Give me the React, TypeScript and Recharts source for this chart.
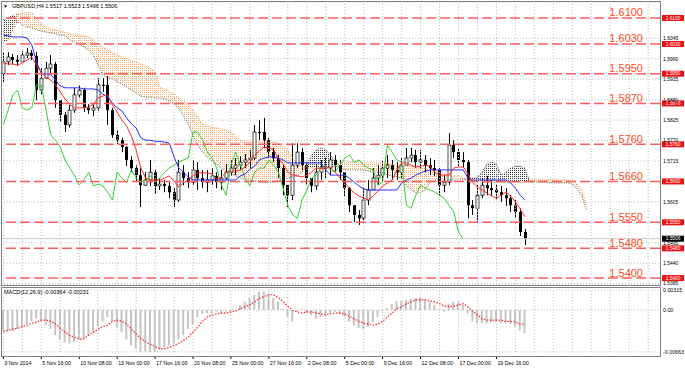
import React from "react";
import {
  ComposedChart,
  Bar,
  Line,
  Area,
  XAxis,
  YAxis,
  CartesianGrid,
  ReferenceLine,
} from "recharts";

const FONT = '"Liberation Sans", Arial, sans-serif';

// x axis labels (one label every 8 bars of 8h)
const dateLabels = [
  "3 Nov 2014", "5 Nov 16:00", "10 Nov 08:00", "13 Nov 00:00", "17 Nov 16:00",
  "20 Nov 08:00", "25 Nov 00:00", "27 Nov 16:00", "2 Dec 08:00", "5 Dec 00:00",
  "9 Dec 16:00", "12 Dec 08:00", "17 Dec 00:00", "19 Dec 16:00",
];
const labelSlots = [0, 8, 16, 24, 32, 40, 48, 56, 64, 72, 80, 88, 96, 104];
const gridSlots = [
  0, 4, 8, 12, 16, 20, 24, 28, 32, 36, 40, 44, 48, 52, 56, 60, 64, 68,
  72, 76, 80, 84, 88, 92, 96, 100, 104, 108, 112, 116, 120, 124, 128, 132, 136,
];
const SLOTS = 139;
const CHIKOU_SHIFT = 13;

// right scale ticks (those sitting under a level tag are left out)
const priceTicks = [
  1.6045, 1.599, 1.5935, 1.588, 1.5825, 1.577, 1.5715, 1.5605,
  1.5495, 1.544, 1.5385,
];
const levels = [1.61, 1.603, 1.595, 1.587, 1.576, 1.566, 1.555, 1.548, 1.54];
const macdTicks = [0.00315, 0, -0.00663];
const lastBar = [1.5517, 1.5523, 1.5496, 1.5506];
const firstOpen = 1.595;

const closes = [
  1.5982, 1.5995, 1.5987, 1.5982, 1.6, 1.6006, 1.5998, 1.5906, 1.5938, 1.5965,
  1.5976, 1.5879, 1.5839, 1.5812, 1.5852, 1.5893, 1.5906, 1.5858, 1.5852, 1.5858,
  1.592, 1.592, 1.5852, 1.5785, 1.5771, 1.5753, 1.5718, 1.5696, 1.5677, 1.565,
  1.5664, 1.5685, 1.5648, 1.5653, 1.5648, 1.5631, 1.561, 1.5685, 1.5669, 1.5658,
  1.5691, 1.5669, 1.5658, 1.5664, 1.5675, 1.5658, 1.5669, 1.5685, 1.5696, 1.5704,
  1.5712, 1.5718, 1.5723, 1.5793, 1.5793, 1.5771, 1.5739, 1.5723, 1.5696, 1.565,
  1.5623, 1.5704, 1.5739, 1.5704, 1.5669, 1.5648, 1.5685, 1.5696, 1.5696, 1.5718,
  1.5704, 1.5685, 1.5642, 1.5596, 1.557, 1.5561, 1.561, 1.5637, 1.5669, 1.5677,
  1.5696, 1.5704, 1.5691, 1.5685, 1.5704, 1.5723, 1.5731, 1.5712, 1.5718, 1.5704,
  1.5696, 1.5691, 1.565, 1.5658, 1.5758, 1.5739, 1.5718, 1.5712, 1.5596, 1.5588,
  1.5623, 1.565, 1.5642, 1.5637, 1.5631, 1.5623, 1.5615, 1.5596, 1.5578, 1.5524,
  1.5506,
];
const highs = [
  1.6008, 1.6008, 1.6003, 1.6, 1.6011, 1.6019, 1.6014, 1.6008, 1.5965, 1.5982,
  1.6, 1.5982, 1.5879, 1.5847, 1.5866, 1.5912, 1.592, 1.5912, 1.5868, 1.5868,
  1.5938, 1.5938, 1.5944, 1.5858, 1.5798, 1.5777, 1.5755, 1.5728, 1.5704, 1.5696,
  1.5685, 1.5718, 1.5691, 1.5669, 1.5664, 1.5658, 1.5642, 1.5718, 1.5704, 1.5685,
  1.5718, 1.5712, 1.5691, 1.5691, 1.5696, 1.5685, 1.5691, 1.5707, 1.5718, 1.5723,
  1.5728, 1.5734, 1.5745, 1.5812, 1.5825, 1.5831, 1.5777, 1.575, 1.5731, 1.5704,
  1.565, 1.5763, 1.5763, 1.575, 1.5712, 1.5669, 1.5704, 1.5718, 1.5723, 1.5739,
  1.5731, 1.5718, 1.5685, 1.5645, 1.5596, 1.5583, 1.5642, 1.5664, 1.5696, 1.5704,
  1.5718, 1.5731, 1.5718, 1.5712, 1.5723, 1.575, 1.575, 1.5745, 1.5745, 1.5731,
  1.5723, 1.5718, 1.5696, 1.5677, 1.579, 1.5771, 1.575, 1.5739, 1.5718, 1.561,
  1.565, 1.5669, 1.5675, 1.5664, 1.5653, 1.5648, 1.5642, 1.5623, 1.561, 1.5588,
  1.5532,
];
const lows = [
  1.5928, 1.5973, 1.5976, 1.5971, 1.5982, 1.5992, 1.5987, 1.5879, 1.5893, 1.5938,
  1.5949, 1.5858, 1.582, 1.5793, 1.5805, 1.5845, 1.5885, 1.5847, 1.5842, 1.5836,
  1.585, 1.5901, 1.5812, 1.5777, 1.5761, 1.5739, 1.5701, 1.5685, 1.5658, 1.5591,
  1.5648, 1.5648, 1.5626, 1.5637, 1.5631, 1.5615, 1.5591, 1.5605, 1.565, 1.5642,
  1.565, 1.5637, 1.5642, 1.5631, 1.565, 1.5642, 1.5637, 1.5664, 1.5675, 1.5677,
  1.5691, 1.5696, 1.5696, 1.5718, 1.5771, 1.575, 1.5723, 1.5712, 1.5669, 1.5623,
  1.5591, 1.561, 1.5696, 1.5691, 1.565, 1.5631, 1.5637, 1.5664, 1.5669, 1.5677,
  1.5685, 1.5664, 1.5621, 1.5578, 1.5551, 1.5543, 1.5556, 1.5596, 1.5637, 1.565,
  1.5658, 1.5669, 1.5664, 1.5664, 1.5669, 1.5704, 1.5712, 1.5696, 1.5696, 1.5685,
  1.5677, 1.5675, 1.5623, 1.5631, 1.565, 1.5723, 1.5701, 1.5696, 1.5561, 1.557,
  1.5551, 1.5615, 1.5623, 1.5621, 1.561, 1.5605, 1.5594, 1.5578, 1.5561, 1.5513,
  1.5489,
];

// Ichimoku
const tenkan = [
  1.5979, 1.5976, 1.5976, 1.5973, 1.5979, 1.5987, 1.5995, 1.5973, 1.5952, 1.5941,
  1.5933, 1.592, 1.5901, 1.5882, 1.5868, 1.5858, 1.5858, 1.5858, 1.586, 1.5868,
  1.5885, 1.589, 1.5893, 1.5866, 1.5847, 1.5825, 1.5809, 1.5782, 1.5745, 1.5696,
  1.5669, 1.5664, 1.5664, 1.5664, 1.5669, 1.5675, 1.5661, 1.5645, 1.5656, 1.5664,
  1.5675, 1.5683, 1.5683, 1.5683, 1.568, 1.5666, 1.5672, 1.5685, 1.5688, 1.5688,
  1.5691, 1.5699, 1.5712, 1.5731, 1.5742, 1.5753, 1.575, 1.5745, 1.5723, 1.5707,
  1.5685, 1.5677, 1.5675, 1.5672, 1.5677, 1.5685, 1.5696, 1.5696, 1.5696, 1.5699,
  1.5685, 1.5669, 1.5656, 1.5642, 1.5629, 1.5621, 1.5615, 1.561, 1.5621, 1.5634,
  1.5648, 1.5656, 1.5664, 1.5691, 1.571, 1.571, 1.5704, 1.5699, 1.5701, 1.5704,
  1.5701, 1.5685, 1.5677, 1.5677, 1.5677, 1.5696, 1.5699, 1.5699, 1.568, 1.5658,
  1.5645, 1.5637, 1.5629, 1.5621, 1.5615, 1.5623, 1.5631, 1.5621, 1.5605, 1.5586,
  1.5565,
];
const kijun = [
  1.6054, 1.6052, 1.6049, 1.6049, 1.6049, 1.6046, 1.6027, 1.5982, 1.5952, 1.5949,
  1.5947, 1.5933, 1.5917, 1.5912, 1.5912, 1.5912, 1.5912, 1.5909, 1.5909, 1.5909,
  1.5906, 1.5895, 1.5887, 1.5871, 1.5858, 1.585, 1.5831, 1.5815, 1.5804, 1.5777,
  1.5771, 1.5771, 1.5768, 1.5768, 1.5766, 1.5763, 1.5726, 1.5696, 1.5685, 1.5672,
  1.5664, 1.5664, 1.5664, 1.5664, 1.5664, 1.5664, 1.5664, 1.5664, 1.5664, 1.5664,
  1.5675, 1.568, 1.5693, 1.5701, 1.5718, 1.5723, 1.5726, 1.5726, 1.5723, 1.5718,
  1.571, 1.571, 1.571, 1.571, 1.571, 1.571, 1.571, 1.571, 1.5691, 1.5677,
  1.5677, 1.5677, 1.5677, 1.5669, 1.5658, 1.5648, 1.564, 1.5637, 1.5637, 1.5637,
  1.5637, 1.5637, 1.5637, 1.5637, 1.5656, 1.5664, 1.5669, 1.5677, 1.5683, 1.5688,
  1.5691, 1.5691, 1.5691, 1.5691, 1.5691, 1.5691, 1.5691, 1.5691, 1.5669, 1.5664,
  1.5664, 1.5664, 1.5664, 1.5664, 1.5664, 1.5664, 1.5664, 1.5656, 1.5642, 1.5623,
  1.561,
];
const spanA = [
  1.6033, 1.6041, 1.6068, 1.6111, 1.6114, 1.6114, 1.6114, 1.61, 1.6084, 1.6076,
  1.607, 1.6068, 1.6065, 1.6062, 1.6057, 1.6054, 1.6054, 1.6052, 1.6049, 1.6041,
  1.603, 1.6022, 1.6014, 1.6006, 1.6, 1.5995, 1.599, 1.5984, 1.5982, 1.5976,
  1.5971, 1.5965, 1.5955, 1.5914, 1.5909, 1.5903, 1.5895, 1.5885, 1.5876, 1.5868,
  1.5852, 1.5831, 1.5815, 1.5809, 1.5806, 1.5804, 1.5801, 1.5798, 1.5793, 1.5782,
  1.5771, 1.5766, 1.5766, 1.5766, 1.5766, 1.5766, 1.5766, 1.5766, 1.5763, 1.5755,
  1.5745, 1.5723, 1.5707, 1.5699, 1.5696, 1.5696, 1.5696, 1.5693, 1.5696, 1.5696,
  1.5701, 1.571, 1.5712, 1.5712, 1.5712, 1.5712, 1.571, 1.571, 1.571, 1.571,
  1.571, 1.571, 1.5707, 1.5704, 1.5704, 1.5701, 1.5701, 1.5699, 1.5696, 1.5696,
  1.5691, 1.5685, 1.5683, 1.5683, 1.5677, 1.5675, 1.5672, 1.5669, 1.5664, 1.5661,
  1.5658, 1.5658, 1.5658, 1.5658, 1.5658, 1.5658, 1.5658, 1.5658, 1.5658, 1.5658,
  1.5658, 1.5664, 1.5666, 1.5666, 1.5666, 1.5666, 1.5664, 1.5664, 1.5664, 1.5664,
  1.5661, 1.5653, 1.5637, 1.5596,
];
const spanB = [
  1.6095, 1.61, 1.6108, 1.6089, 1.6081, 1.6076, 1.6073, 1.6068, 1.6065, 1.6062,
  1.606, 1.6057, 1.6054, 1.6052, 1.6041, 1.6035, 1.603, 1.6022, 1.6014, 1.6,
  1.5973, 1.5947, 1.5938, 1.5938, 1.5928, 1.5922, 1.5914, 1.5906, 1.5898, 1.589,
  1.5887, 1.5887, 1.5885, 1.5885, 1.5882, 1.5876, 1.5868, 1.5858, 1.5836, 1.5815,
  1.5782, 1.5758, 1.5739, 1.5726, 1.5715, 1.5707, 1.5696, 1.5688, 1.568, 1.5675,
  1.5669, 1.5664, 1.5664, 1.5661, 1.5658, 1.5658, 1.5658, 1.5658, 1.5664, 1.5664,
  1.5669, 1.5672, 1.5675, 1.5685, 1.5704, 1.5731, 1.5745, 1.575, 1.5745, 1.5731,
  1.571, 1.5696, 1.5691, 1.5691, 1.5691, 1.5691, 1.5691, 1.5688, 1.5685, 1.5685,
  1.5683, 1.5677, 1.5675, 1.5672, 1.5669, 1.565, 1.5637, 1.5631, 1.5631, 1.5637,
  1.5658, 1.5664, 1.5664, 1.5664, 1.5664, 1.5664, 1.5664, 1.5664, 1.5669, 1.5669,
  1.5672, 1.5685, 1.5707, 1.5712, 1.5707, 1.5677, 1.5685, 1.5696, 1.5701, 1.5701,
  1.5696, 1.5658, 1.5658, 1.5658, 1.5658, 1.5658, 1.5656, 1.5656, 1.5656, 1.5656,
  1.5653, 1.5642, 1.5621, 1.5583,
];

// MACD(12,26,9): main (histogram) and signal
const macd = [
  -0.0032, -0.0034, -0.0034, -0.003, -0.0027, -0.0022, -0.0018, -0.0014, -0.0018, -0.0024,
  -0.003, -0.004, -0.0046, -0.0051, -0.0053, -0.0051, -0.0046, -0.0045, -0.004, -0.0035,
  -0.0026, -0.0018, -0.0011, -0.0018, -0.0027, -0.0035, -0.0046, -0.0056, -0.0061, -0.0066,
  -0.0066, -0.0066, -0.0065, -0.0062, -0.0059, -0.0056, -0.0053, -0.0046, -0.004, -0.003,
  -0.0022, -0.0011, -0.0006, -0.0005, -0.0005, -0.0003, -0.0005, -0.0002, -0.0002, -0.0001,
  0.0008, 0.0013, 0.0019, 0.0024, 0.0029, 0.0029, 0.0026, 0.0019, 0.0013, 0.0002,
  -0.0011, -0.0018, -0.0002, 0.0002, -0.0003, -0.0008, -0.0014, -0.0011, -0.0008, -0.0005,
  -0.0003, -0.0006, -0.0011, -0.0018, -0.0024, -0.0029, -0.003, -0.0027, -0.0019, -0.0011,
  -0.0002, 0.0003, 0.001, 0.0014, 0.0014, 0.0016, 0.0018, 0.0019, 0.0019, 0.0016,
  0.0013, 0.0008, 0.0002, -0.0002, 0.001, 0.0013, 0.0013, 0.0008, -0.0006, -0.0018,
  -0.0021, -0.0021, -0.0021, -0.0019, -0.0019, -0.0021, -0.0021, -0.0022, -0.0026, -0.0032,
  -0.00364,
];
const signal = [
  -0.0034, -0.0032, -0.003, -0.0029, -0.0026, -0.0024, -0.0021, -0.0019, -0.0016, -0.0016,
  -0.0018, -0.0022, -0.0029, -0.0035, -0.004, -0.0043, -0.0046, -0.0045, -0.004, -0.0035,
  -0.003, -0.0026, -0.0024, -0.0018, -0.0016, -0.0018, -0.0022, -0.003, -0.0038, -0.0045,
  -0.005, -0.0054, -0.0058, -0.0061, -0.0061, -0.0059, -0.0056, -0.0053, -0.0048, -0.0043,
  -0.0035, -0.0027, -0.0018, -0.0011, -0.0008, -0.0006, -0.0005, -0.0005, -0.0003, -0.0002,
  0.0002, 0.0005, 0.0008, 0.0013, 0.0018, 0.0021, 0.0024, 0.0024, 0.0019, 0.0013,
  0.0006, 0.0, -0.0003, -0.0005, -0.0003, -0.0003, -0.0005, -0.0006, -0.0008, -0.0006,
  -0.0005, -0.0005, -0.0006, -0.001, -0.0014, -0.0018, -0.0021, -0.0022, -0.0024, -0.0022,
  -0.0018, -0.0011, -0.0005, 0.0002, 0.0005, 0.001, 0.0013, 0.0016, 0.0016, 0.0016,
  0.0014, 0.0013, 0.001, 0.0006, 0.0005, 0.0006, 0.0008, 0.001, 0.0005, -0.0002,
  -0.0008, -0.0014, -0.0016, -0.0016, -0.0016, -0.0016, -0.0018, -0.0018, -0.0019, -0.0022,
  -0.00231,
];

const up = (i: number) => spanA[i] !== undefined && spanA[i] >= spanB[i];
const down = (i: number) => spanA[i] !== undefined && spanA[i] < spanB[i];

const rows = Array.from({ length: SLOTS }, (_, i) => {
  const has = closes[i] !== undefined;
  const a = spanA[i];
  const b = spanB[i];
  const pair = a !== undefined ? [Math.min(a, b), Math.max(a, b)] : null;
  return {
    i,
    candle: has ? [lows[i], highs[i]] : null,
    open: has ? (i === 0 ? firstOpen : closes[i - 1]) : null,
    close: has ? closes[i] : null,
    high: has ? highs[i] : null,
    low: has ? lows[i] : null,
    tenkan: tenkan[i] ?? null,
    kijun: kijun[i] ?? null,
    chikou: closes[i + CHIKOU_SHIFT] ?? null,
    spanA: a ?? null,
    spanB: b ?? null,
    cloudUp: pair && (up(i) || (i > 0 && up(i - 1))) ? pair : null,
    cloudDown: pair && (down(i) || (i > 0 && down(i - 1))) ? pair : null,
    macd: macd[i] ?? null,
    signal: signal[i] ?? null,
  };
});

function Candle(props: any) {
  const { x, y, width, height, payload } = props;
  if (!payload || payload.close == null) return null;
  const { open, close, high, low } = payload;
  const top = height >= 0 ? y : y + height;
  const h = Math.abs(height);
  const cx = Math.floor(x + width / 2) + 0.5;
  const yOf = (v: number) => top + ((high - v) / (high - low)) * h;
  const bodyTop = yOf(Math.max(open, close));
  const bodyBottom = yOf(Math.min(open, close));
  const bull = close > open;
  return (
    <g>
      <line x1={cx} x2={cx} y1={top} y2={top + h} stroke="#000" strokeWidth={1} />
      <rect
        x={cx - 1.5}
        y={bodyTop}
        width={3}
        height={Math.max(bodyBottom - bodyTop, 1)}
        fill={bull ? "#fff" : "#000"}
        stroke={bull ? "#000" : "none"}
        strokeWidth={0.7}
      />
    </g>
  );
}

function PriceTick(props: any) {
  const { x, y, payload } = props;
  return (
    <text x={x + 3} y={y + 1.8} fontSize={5} fill="#000" fontFamily={FONT}>
      {Number(payload.value).toFixed(4)}
    </text>
  );
}

function MacdTick(props: any) {
  const { x, y, payload } = props;
  const v = Number(payload.value);
  return (
    <text x={x + 3} y={y + 2} fontSize={5.3} fill="#000" fontFamily={FONT}>
      {v === 0 ? "0.00" : v.toFixed(5)}
    </text>
  );
}

function DateTick(props: any) {
  const { x, y, payload } = props;
  const label = dateLabels[labelSlots.indexOf(payload.value)];
  return (
    <g>
      <line x1={x} x2={x} y1={y + 4} y2={y + 7} stroke="#000" />
      <text x={x + 1} y={y + 13} fontSize={5.3} fill="#000" fontFamily={FONT}>
        {label}
      </text>
    </g>
  );
}

function LevelLabel(props: any) {
  const { viewBox, level } = props;
  if (!viewBox) return null;
  const { x, y, width } = viewBox;
  const txt = level.toFixed(4);
  return (
    <g>
      <text x={x + width - 17} y={y - 1.5} textAnchor="end" fontSize={11} fill="#ff4d1c" fontFamily={FONT}>
        {txt}
      </text>
      <rect x={x + width + 2} y={y - 3} width={22} height={6} fill="#ee1111" />
      <text x={x + width + 13} y={y + 1.7} textAnchor="middle" fontSize={4.8} fill="#fff" fontFamily={FONT}>
        {txt}
      </text>
    </g>
  );
}

function PriceLabel(props: any) {
  const { viewBox, price } = props;
  if (!viewBox) return null;
  const { x, y, width } = viewBox;
  return (
    <g>
      <rect x={x + width + 2} y={y - 3} width={22} height={6} fill="#000" />
      <text x={x + width + 13} y={y + 1.5} textAnchor="middle" fontSize={4.8} fill="#fff" fontFamily={FONT}>
        {price.toFixed(4)}
      </text>
    </g>
  );
}

const gridLines = gridSlots.map((s) => (
  <ReferenceLine key={"g" + s} x={s} stroke="#bdbdbd" strokeDasharray="1 2" />
));

export default function App() {
  const fmt = (v: number) => v.toFixed(5);
  return (
    <div
      style={{
        position: "absolute",
        left: 0,
        top: 0,
        width: 685,
        height: 371,
        background: "#fff",
        overflow: "hidden",
        fontFamily: FONT,
      }}
    >
      <div style={{ position: "absolute", left: 0, top: 0 }}>
        <ComposedChart
          width={685}
          height={286}
          data={rows}
          margin={{ top: 2, right: 0, bottom: 2, left: 1 }}
        >
          <defs>
            <pattern id="dotsOrange" width="2" height="2" patternUnits="userSpaceOnUse">
              <rect x="0" y="0" width="1" height="1" fill="#f6ad62" />
            </pattern>
            <pattern id="dotsDark" width="2" height="2" patternUnits="userSpaceOnUse">
              <rect x="0" y="0" width="1" height="1" fill="#3a3a3a" />
            </pattern>
          </defs>
          <CartesianGrid vertical={false} stroke="#bdbdbd" strokeDasharray="1 2" />
          <XAxis dataKey="i" type="category" hide />
          <YAxis
            orientation="right"
            domain={[1.5384, 1.6143]}
            allowDataOverflow
            ticks={priceTicks}
            interval={0}
            width={25}
            axisLine={false}
            tickLine={false}
            tickSize={0}
            tickMargin={0}
            tick={<PriceTick />}
          />
          {gridLines}
          <Area
            dataKey={(d: any) => d.cloudUp}
            type="linear"
            fill="url(#dotsOrange)"
            fillOpacity={1}
            stroke="none"
            dot={false}
            activeDot={false}
            isAnimationActive={false}
          />
          <Area
            dataKey={(d: any) => d.cloudDown}
            type="linear"
            fill="url(#dotsDark)"
            fillOpacity={1}
            stroke="none"
            dot={false}
            activeDot={false}
            isAnimationActive={false}
          />
          <Line dataKey="spanA" type="linear" stroke="#f4a460" strokeDasharray="1 1" strokeWidth={1} dot={false} activeDot={false} isAnimationActive={false} />
          <Line dataKey="spanB" type="linear" stroke="#555" strokeDasharray="1 1.5" strokeWidth={1} dot={false} activeDot={false} isAnimationActive={false} />
          <Bar dataKey={(d: any) => d.candle} barSize={3} shape={<Candle />} isAnimationActive={false} />
          <Line dataKey="chikou" type="linear" stroke="#33cc33" strokeWidth={1} dot={false} activeDot={false} isAnimationActive={false} />
          <Line dataKey="kijun" type="linear" stroke="#2b2bff" strokeWidth={1} dot={false} activeDot={false} isAnimationActive={false} />
          <Line dataKey="tenkan" type="linear" stroke="#ff2a2a" strokeWidth={1} dot={false} activeDot={false} isAnimationActive={false} />
          <ReferenceLine y={lastBar[3]} stroke="#c8c8c8" strokeWidth={1} label={<PriceLabel price={lastBar[3]} />} />
          {levels.map((v) => (
            <ReferenceLine
              key={"l" + v}
              y={v}
              stroke="#ff5c5c"
              strokeWidth={1.5}
              strokeDasharray="10 4"
              label={<LevelLabel level={v} />}
            />
          ))}
        </ComposedChart>
      </div>

      <div style={{ position: "absolute", left: 0, top: 287 }}>
        <ComposedChart
          width={685}
          height={84}
          data={rows}
          margin={{ top: 3, right: 0, bottom: 0, left: 1 }}
        >
          <CartesianGrid vertical={false} stroke="#bdbdbd" strokeDasharray="1 2" />
          <XAxis
            dataKey="i"
            type="category"
            ticks={labelSlots}
            interval={0}
            height={19}
            axisLine={false}
            tickLine={false}
            tickSize={0}
            tickMargin={0}
            tick={<DateTick />}
          />
          <YAxis
            orientation="right"
            domain={[-0.00663, 0.00315]}
            allowDataOverflow
            ticks={macdTicks}
            interval={0}
            width={25}
            axisLine={false}
            tickLine={false}
            tickSize={0}
            tickMargin={0}
            tick={<MacdTick />}
          />
          {gridLines}
          <Bar dataKey="macd" fill="#c4c4c4" barSize={2} isAnimationActive={false} />
          <Line dataKey="signal" type="linear" stroke="#ff2020" strokeDasharray="1.5 1.5" strokeWidth={1.2} dot={false} activeDot={false} isAnimationActive={false} />
        </ComposedChart>
      </div>

      {/* pane frames */}
      <div style={{ position: "absolute", left: 1, top: 1, width: 660, height: 285, border: "1px solid #808080", boxSizing: "border-box", pointerEvents: "none" }} />
      <div style={{ position: "absolute", left: 1, top: 287, width: 660, height: 70, border: "1px solid #808080", boxSizing: "border-box", pointerEvents: "none" }} />

      <div style={{ position: "absolute", left: 3, top: 3, fontSize: 5.5, color: "#000", whiteSpace: "nowrap", lineHeight: "7px" }}>
        <span style={{ fontSize: 5 }}>▼</span>
        <span style={{ marginLeft: 4 }}>GBPUSD,H4 {lastBar.map((v) => v.toFixed(4)).join(" ")}</span>
      </div>
      <div style={{ position: "absolute", left: 4, top: 289, fontSize: 5.5, color: "#000", whiteSpace: "nowrap", lineHeight: "7px" }}>
        MACD(12,26,9) {fmt(macd[macd.length - 1])} {fmt(signal[signal.length - 1])}
      </div>
    </div>
  );
}
